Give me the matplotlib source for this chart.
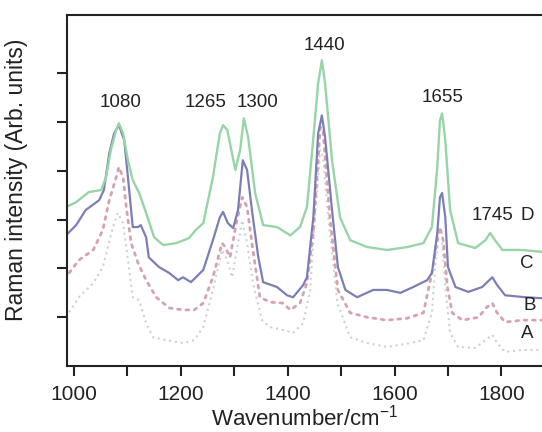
import numpy as np
import matplotlib
matplotlib.use('Agg')
import matplotlib.pyplot as plt

plt.rcParams['font.family'] = ['Liberation Sans', 'DejaVu Sans']
plt.rcParams['mathtext.default'] = 'regular'

# spectrum D (green, solid)
d_wn = [985, 1004, 1028, 1051, 1060, 1069, 1079, 1084, 1092, 1101, 1110, 1122, 1135, 1150,
        1167, 1191, 1215, 1228, 1242, 1260, 1273, 1279, 1287, 1302, 1311, 1318, 1326, 1339,
        1354, 1380, 1405, 1423, 1436, 1446, 1457, 1464, 1470, 1483, 1498, 1517, 1549, 1586,
        1624, 1654, 1670, 1680, 1685, 1689, 1695, 1704, 1719, 1751, 1770, 1779, 1788, 1802,
        1839, 1876]
d_int = [3.26, 3.36, 3.57, 3.61, 3.87, 4.43, 4.84, 4.98, 4.77, 4.22, 3.81, 3.55, 3.14, 2.64,
         2.48, 2.52, 2.62, 2.79, 2.93, 3.87, 4.77, 4.94, 4.84, 4.02, 4.43, 5.08, 4.69, 3.55,
         2.89, 2.85, 2.68, 2.85, 3.26, 4.43, 5.80, 6.27, 5.80, 4.22, 3.05, 2.58, 2.44, 2.38,
         2.44, 2.52, 2.85, 4.08, 5.04, 5.18, 4.63, 3.20, 2.52, 2.42, 2.58, 2.73, 2.58, 2.38,
         2.38, 2.34]

# spectrum C (blue, solid)
c_wn = [985, 1004, 1022, 1047, 1056, 1066, 1075, 1084, 1094, 1101, 1110, 1120, 1125, 1135,
        1140, 1159, 1178, 1195, 1204, 1219, 1242, 1260, 1273, 1279, 1288, 1298, 1307, 1316,
        1324, 1333, 1345, 1354, 1380, 1399, 1410, 1429, 1436, 1448, 1457, 1464, 1470, 1483,
        1494, 1508, 1530, 1560, 1586, 1611, 1635, 1661, 1670, 1680, 1685, 1689, 1695, 1700,
        1714, 1738, 1764, 1783, 1792, 1807, 1845, 1876]
c_int = [2.68, 2.89, 3.20, 3.40, 3.61, 4.36, 4.77, 4.94, 4.63, 3.87, 2.85, 2.85, 2.89, 2.64,
         2.23, 2.03, 1.91, 1.76, 1.82, 1.72, 1.97, 2.58, 3.05, 3.16, 2.93, 2.83, 3.20, 4.22,
         4.02, 3.20, 2.23, 1.72, 1.62, 1.45, 1.41, 1.66, 1.82, 3.05, 4.77, 5.14, 4.69, 3.20,
         2.03, 1.56, 1.41, 1.56, 1.56, 1.50, 1.62, 1.76, 1.91, 2.73, 3.46, 3.55, 3.05, 2.03,
         1.62, 1.52, 1.62, 1.82, 1.66, 1.45, 1.41, 1.39]

# spectrum B (pink, dotted)
b_wn = [991, 1009, 1036, 1054, 1066, 1079, 1084, 1092, 1097, 1107, 1120, 1135, 1154, 1178,
        1204, 1225, 1242, 1260, 1277, 1283, 1292, 1305, 1315, 1324, 1333, 1348, 1367, 1391,
        1405, 1423, 1436, 1448, 1461, 1466, 1479, 1494, 1517, 1549, 1586, 1624, 1654, 1670,
        1680, 1685, 1691, 1699, 1708, 1727, 1757, 1773, 1783, 1792, 1807, 1839, 1876]
b_int = [1.91, 2.17, 2.38, 2.79, 3.40, 3.87, 4.08, 3.87, 3.34, 2.52, 2.11, 1.76, 1.41, 1.19,
         1.15, 1.15, 1.29, 1.82, 2.52, 2.44, 2.23, 2.99, 3.46, 3.26, 2.52, 1.41, 1.31, 1.29,
         1.15, 1.29, 1.70, 2.73, 4.90, 4.84, 3.05, 1.56, 1.09, 1.00, 0.94, 0.98, 1.09, 1.91,
         2.58, 2.85, 2.58, 1.62, 1.09, 0.94, 1.00, 1.21, 1.29, 1.09, 0.90, 0.94, 0.94]

# spectrum A (grey, dotted)
a_wn = [985, 1009, 1036, 1054, 1073, 1082, 1092, 1101, 1110, 1122, 1135, 1148, 1172, 1204,
        1225, 1242, 1260, 1277, 1287, 1296, 1305, 1315, 1324, 1335, 1352, 1367, 1391, 1410,
        1429, 1442, 1451, 1461, 1466, 1476, 1493, 1517, 1549, 1586, 1629, 1654, 1670, 1676,
        1682, 1689, 1695, 1704, 1719, 1751, 1770, 1783, 1792, 1807, 1839, 1876]
a_int = [1.00, 1.41, 1.70, 2.03, 2.85, 3.14, 2.93, 2.17, 1.41, 1.35, 0.88, 0.59, 0.53, 0.47,
         0.53, 0.80, 1.56, 2.38, 2.17, 1.82, 2.38, 2.99, 2.52, 1.70, 0.94, 0.80, 0.74, 0.68,
         0.88, 1.56, 3.05, 4.43, 4.28, 3.05, 1.29, 0.59, 0.47, 0.39, 0.47, 0.53, 1.09, 2.03,
         2.58, 2.52, 1.62, 0.68, 0.39, 0.37, 0.53, 0.64, 0.47, 0.29, 0.33, 0.33]

peak_labels = ['1080', '1265', '1300', '1440', '1655', '1745']
peak_x = [1088, 1247, 1343, 1468, 1689, 1783]
peak_y = [5.41, 5.41, 5.41, 6.58, 5.51, 3.09]

curve_names = ['D', 'C', 'B', 'A']
name_x = [1848, 1848, 1854, 1848]
name_y = [3.09, 2.11, 1.25, 0.66]

fig = plt.figure(figsize=(5.42, 4.32), dpi=100)
ax = fig.add_axes([0.1227, 0.1528, 0.8773, 0.8125])

ax.plot(a_wn, a_int, color='#ccd2cf', lw=1.5, ls=(0, (1, 1.8)))
ax.plot(b_wn, b_int, color='#d6a2b0', lw=2.0, ls=(0, (1, 2.0)), dash_capstyle='round')
ax.plot(c_wn, c_int, color='#7c7fb6', lw=1.6)
ax.plot(d_wn, d_int, color='#98d4a8', lw=1.7)

for t, x, y in zip(peak_labels, peak_x, peak_y):
    ax.text(x, y, t, ha='center', va='center', fontsize=13.5, color='#222222')
for t, x, y in zip(curve_names, name_x, name_y):
    ax.text(x, y, t, ha='center', va='center', fontsize=13.5, color='#222222')

ax.set_xlim(986, 1876)
ax.set_ylim(0, 7.2)
ax.set_xticks(np.arange(1000, 1801, 100))
ax.set_xticklabels(['1000', '', '1200', '', '1400', '', '1600', '', '1800'])
ax.set_yticks([1, 2, 3, 4, 5, 6])
ax.set_yticklabels([])
ax.tick_params(direction='out', length=7, width=1.5, labelsize=15, pad=7, colors='#222222')
for s in ['left', 'bottom', 'top']:
    ax.spines[s].set_linewidth(1.5)
    ax.spines[s].set_color('#222222')
ax.spines['right'].set_visible(False)

ax.set_xlabel('Wavenumber/cm$^{-1}$', fontsize=16, color='#222222', labelpad=0)
ax.set_ylabel('Raman intensity (Arb. units)', fontsize=16.5, color='#222222')
ax.yaxis.set_label_coords(-0.08, 0.53)

fig.savefig('out.png', dpi=100)
